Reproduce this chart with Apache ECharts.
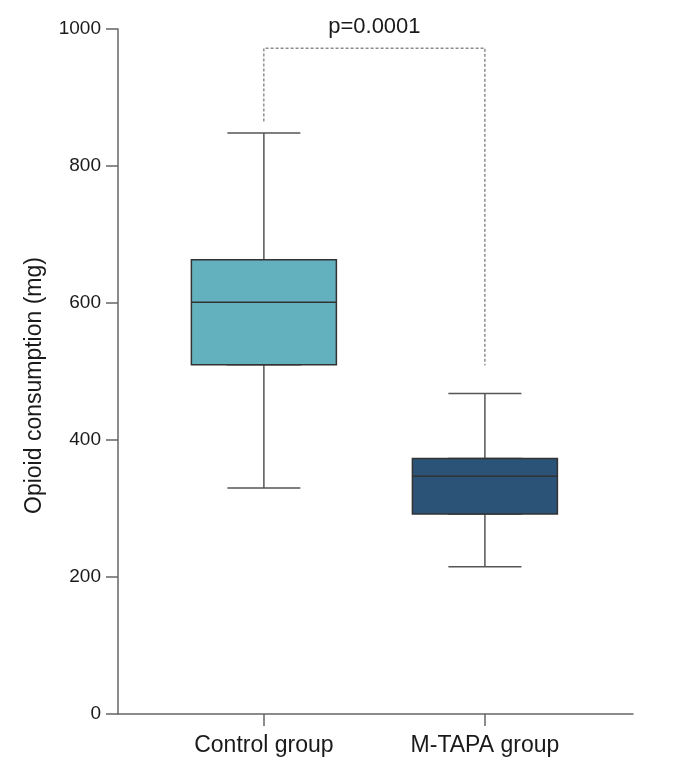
<!DOCTYPE html>
<html>
<head>
<meta charset="utf-8">
<script src="https://cdn.jsdelivr.net/npm/echarts@6/dist/echarts.min.js"></script>
<style>
  html, body { margin: 0; padding: 0; background: #fff; }
  #chart { width: 685px; height: 760px; }
</style>
</head>
<body>
<div id="chart"></div>
<script>
const categories = ['Control group', 'M-TAPA group']
const lowerWhisker = [330, 215]
const q1 = [510, 292]
const median = [601, 347]
const q3 = [663, 373]
const upperWhisker = [848, 468]
const boxColors = ['#63b1be', '#2b5378']

// significance bracket: left leg end, top, right leg end
const bracketLeft = 865
const bracketTop = 972
const bracketRight = 509
const pText = 'p=0.0001'

const font = '"Liberation Sans", Arial, sans-serif'

// narrow series draws whiskers + caps, wide series draws the box on top
const whiskerData = categories.map((c, i) =>
  [i, lowerWhisker[i], q1[i], median[i], q3[i], upperWhisker[i]])
const boxData = categories.map((c, i) => ({
  value: [i, q1[i], q1[i], median[i], q3[i], q3[i]],
  itemStyle: { color: boxColors[i] }
}))

const xBase = { type: 'value', min: -0.66, max: 1.67, gridIndex: 0 }

const option = {
  animation: false,
  grid: { left: 118, right: 52, top: 29, bottom: 46 },
  xAxis: [
    Object.assign({}, xBase, {
      position: 'bottom',
      splitLine: { show: false },
      axisLine: { lineStyle: { color: '#666', width: 1.5 } },
      axisTick: { customValues: [0, 1], length: 12, lineStyle: { color: '#666', width: 1.5 } },
      axisLabel: {
        customValues: [0, 1],
        formatter: v => categories[Math.round(v)] || '',
        margin: 20, fontSize: 23, color: '#1a1a1a', fontFamily: font
      }
    }),
    Object.assign({}, xBase, { show: false })
  ],
  yAxis: {
    type: 'value', min: 0, max: 1000, interval: 200,
    name: 'Opioid consumption (mg)',
    nameLocation: 'middle',
    nameGap: 72,
    nameTextStyle: { fontSize: 23, color: '#1a1a1a', fontFamily: font, padding: [0, 28, 0, 0] },
    splitLine: { show: false },
    axisLine: { show: true, onZero: false, lineStyle: { color: '#666', width: 1.5 } },
    axisTick: { show: true, length: 12, lineStyle: { color: '#666', width: 1.5 } },
    axisLabel: { margin: 17, fontSize: 19, color: '#1a1a1a', fontFamily: font, formatter: v => String(v) }
  },
  series: [
    {
      type: 'boxplot',
      xAxisIndex: 1,
      boxWidth: [73, 73],
      data: whiskerData,
      itemStyle: { color: 'rgba(0,0,0,0)', borderColor: '#555', borderWidth: 1.5 }
    },
    {
      type: 'boxplot',
      xAxisIndex: 0,
      boxWidth: [145, 145],
      data: boxData,
      itemStyle: { borderColor: '#333', borderWidth: 1.5 }
    },
    {
      type: 'line',
      xAxisIndex: 0,
      symbol: 'none',
      data: [[0, bracketLeft], [0, bracketTop], [1, bracketTop], [1, bracketRight]],
      lineStyle: { color: '#555', width: 1, type: [3, 2] }
    },
    {
      type: 'scatter',
      xAxisIndex: 0,
      symbolSize: 0,
      itemStyle: { opacity: 1 },
      data: [[0.5, bracketTop]],
      label: {
        show: true, position: 'top', distance: 10,
        formatter: pText, fontSize: 22, color: '#1a1a1a', fontFamily: font
      }
    }
  ]
}

const chart = echarts.init(document.getElementById('chart'))
chart.setOption(option)
</script>
</body>
</html>
